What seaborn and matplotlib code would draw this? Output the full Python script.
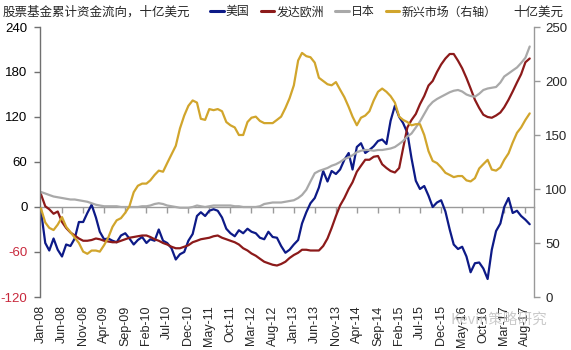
import matplotlib
matplotlib.use("Agg")
import matplotlib.pyplot as plt
import matplotlib.dates as mdates
from matplotlib.lines import Line2D
import pandas as pd
import seaborn as sns

# Monthly cumulative equity-fund flows, Jan 2008 - Sep 2017 (USD bn)
months = pd.date_range("2008-01-01", periods=117, freq="MS")

us = [-5, -48, -58, -42, -57, -66, -50, -52, -42, -20,
      -20, -8, 3, -14, -33, -43, -42, -45, -47, -38,
      -35, -42, -50, -44, -40, -48, -43, -45, -30, -45,
      -48, -55, -70, -63, -60, -45, -36, -12, -7, -12,
      -5, -3, -5, -14, -29, -35, -39, -31, -35, -29,
      -33, -35, -41, -43, -33, -40, -41, -52, -61, -57,
      -50, -44, -22, -7, 5, 12, 26, 48, 34, 48,
      44, 50, 63, 72, 50, 80, 85, 72, 76, 81,
      88, 90, 84, 115, 135, 120, 112, 99, 65, 35,
      24, 28, 15, 0, 6, 9, -6, -30, -50, -56,
      -53, -66, -87, -75, -74, -82, -96, -57, -32, -22,
      0, 12, -8, -5, -12, -17, -23]

europe = [17, 1, -3, -9, -6, -20, -28, -34, -38, -42,
          -45, -45, -44, -42, -43, -45, -46, -47, -47, -45,
          -43, -41, -40, -39, -38, -38, -40, -43, -45, -48,
          -50, -53, -55, -55, -53, -51, -47, -45, -43, -42,
          -41, -39, -38, -41, -43, -45, -47, -50, -55, -58,
          -62, -65, -69, -73, -75, -77, -78, -76, -73, -68,
          -64, -61, -57, -57, -58, -58, -58, -52, -42, -28,
          -12, 2, 12, 24, 33, 47, 55, 63, 63, 67,
          68, 57, 52, 48, 46, 52, 78, 106, 116, 124,
          137, 148, 162, 168, 180, 190, 198, 204, 204, 195,
          185, 172, 158, 143, 132, 123, 120, 119, 122, 126,
          133, 143, 154, 166, 177, 193, 198]

japan = [20, 18, 16, 14, 13, 12, 11, 10, 10, 9,
         8, 7, 5, 3, 2, 1, 1, 1, 1, 0,
         0, 0, 0, 0, 1, 1, 2, 4, 5, 4,
         2, 1, 0, -1, -1, -1, 0, 2, 1, 0,
         1, 2, 2, 2, 2, 2, 1, 1, 0, 0,
         0, 0, 1, 4, 5, 6, 6, 6, 7, 8,
         9, 12, 16, 23, 34, 45, 48, 50, 52, 55,
         57, 60, 64, 66, 69, 73, 75, 76, 76, 75,
         76, 76, 77, 78, 80, 84, 88, 94, 98, 106,
         114, 124, 134, 140, 144, 147, 150, 153, 155, 156,
         154, 150, 148, 147, 151, 156, 158, 159, 160, 166,
         174, 178, 182, 186, 192, 199, 214]

emerging = [82, 69, 64, 62, 67, 74, 65, 60, 55, 50,
            42, 40, 43, 43, 42, 48, 55, 65, 71, 73,
            78, 84, 97, 103, 105, 105, 108, 113, 117, 116,
            124, 132, 140, 156, 168, 177, 182, 180, 165, 164,
            174, 173, 174, 172, 162, 159, 157, 150, 150, 162,
            166, 167, 163, 161, 161, 161, 164, 167, 175, 184,
            196, 219, 226, 223, 222, 217, 203, 200, 197, 196,
            199, 192, 185, 176, 167, 159, 166, 168, 172, 182,
            190, 193, 190, 186, 180, 167, 164, 162, 159, 160,
            160, 150, 135, 126, 124, 120, 115, 113, 111, 112,
            112, 108, 107, 110, 119, 123, 127, 118, 117, 120,
            127, 133, 143, 152, 157, 164, 170]

left_ticks = [-120, -60, 0, 60, 120, 180, 240]
right_ticks = [0, 50, 100, 150, 200, 250]
tick_months = pd.date_range("2008-01-01", "2017-08-01", freq="5MS")

series_names = ["美国", "发达欧洲", "日本", "新兴市场（右轴）"]
colors = {"美国": "#0d1a87", "发达欧洲": "#8c1a1a",
          "日本": "#a9a9a9", "新兴市场（右轴）": "#d1a52c"}

df = pd.DataFrame({"date": months, "美国": us, "发达欧洲": europe,
                   "日本": japan, "新兴市场（右轴）": emerging})

sns.set_theme(style="white")
plt.rcParams["font.family"] = ["Liberation Sans", "Noto Sans CJK SC", "DejaVu Sans"]
cjk = ["Noto Sans CJK SC", "DejaVu Sans"]

fig = plt.figure(figsize=(5.71, 3.5), dpi=100)
ax = fig.add_axes([40 / 571, 1 - 297 / 350, (534 - 40) / 571, 270 / 350])
ax2 = ax.twinx()

lw = 1.6
for name in ["美国", "发达欧洲", "日本"]:
    sns.lineplot(data=df, x="date", y=name, ax=ax, color=colors[name], linewidth=lw)
sns.lineplot(data=df, x="date", y="新兴市场（右轴）", ax=ax2,
             color=colors["新兴市场（右轴）"], linewidth=lw)

for a in (ax, ax2):
    a.set_xlabel("")
    a.set_ylabel("")
    a.grid(False)
    a.set_facecolor("none")

ax.set_xlim(pd.Timestamp("2007-12-25"), pd.Timestamp("2017-10-02"))
ax.set_ylim(-120, 240)
ax2.set_ylim(0, 250)

# left axis
ax.set_yticks(left_ticks, labels=[str(v) for v in left_ticks])
neg_color = "#c8283c"
for lbl, v in zip(ax.get_yticklabels(), left_ticks):
    lbl.set_color(neg_color if v < 0 else "black")
ax.tick_params(axis="y", left=True, direction="out", length=4, width=1,
               color="#707070", labelsize=9.5, pad=5)

# bottom date labels (no tick marks at the bottom)
ax.set_xticks(tick_months, labels=[d.strftime("%b-%y") for d in tick_months])
ax.tick_params(axis="x", bottom=True, length=0, labelsize=9, pad=6,
               labelrotation=90)

for s in ["top", "right", "bottom"]:
    ax.spines[s].set_visible(False)
ax.spines["left"].set_color("#707070")
ax.spines["left"].set_linewidth(1)

# right axis
ax2.set_yticks(right_ticks, labels=[str(v) for v in right_ticks])
ax2.tick_params(axis="y", right=True, direction="out", length=4, width=1,
                color="#999999", labelsize=9.5, pad=4)
for s in ["top", "left", "bottom"]:
    ax2.spines[s].set_visible(False)
ax2.spines["right"].set_color("#999999")
ax2.spines["right"].set_linewidth(1)

# zero line with month ticks
zero_pos = (0 - left_ticks[0]) / (left_ticks[-1] - left_ticks[0])
sec = ax.secondary_xaxis(zero_pos)
sec.set_xticks(mdates.date2num(tick_months))
sec.tick_params(axis="x", length=4, width=1, color="#9a9a9a",
                labelbottom=False, labeltop=False)
for s in sec.spines.values():
    s.set_color("#9a9a9a")
    s.set_linewidth(1)

# header texts and legend
fig.text(3 / 571, 1 - 12 / 350, "股票基金累计资金流向，十亿美元",
         family=cjk, fontsize=9, va="center", ha="left")
fig.text(513 / 571, 1 - 12 / 350, "十亿美元",
         family=cjk, fontsize=9, va="center", ha="left")

handles = [Line2D([], [], color=colors[n], linewidth=2.2) for n in series_names]
fig.legend(handles, series_names, loc="center left",
           bbox_to_anchor=(210 / 571, 1 - 12 / 350), ncol=4, frameon=False,
           prop={"family": cjk, "size": 8.6}, handlelength=1.15,
           handletextpad=0.15, columnspacing=0.95, borderaxespad=0,
           borderpad=0)

fig.text(450 / 571, 1 - 321 / 350, "Kevin策略研究", family=cjk,
         fontsize=10.5, color="#bdbdbd", alpha=0.8, va="center", ha="left")

fig.savefig("out.png", dpi=100)
